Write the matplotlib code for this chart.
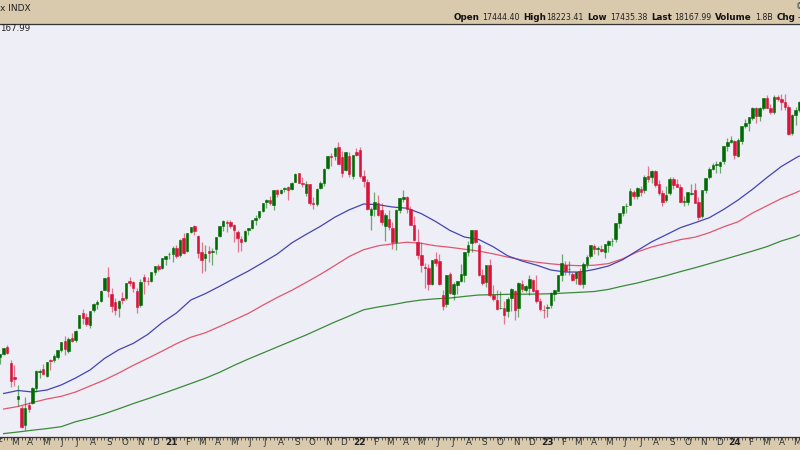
import numpy as np
import pandas as pd
import matplotlib
matplotlib.use("Agg")
import matplotlib.pyplot as plt
import matplotlib.dates as mdates
from matplotlib.transforms import blended_transform_factory

# weekly candles (Friday of each week), Feb 2020 .. May 2024
week_dates = pd.date_range("2020-02-07", "2024-05-10", freq="W-FRI")

opens = [
    # 2020
    9300, 9420, 9640, 9100, 8600, 7850, 7540, 6950, 7640, 7700, 8240, 8800,
    8900, 8660, 9200, 9200, 9300, 9560, 9860, 9500, 9980, 9880, 10300, 10830,
    10700, 10420, 10930, 11160, 11250, 11650, 12100, 11500, 11200, 11000, 11350, 11340,
    11950, 11900, 11600, 11100, 12100, 11950, 11960, 12260, 12450, 12400, 12720, 12880,
    # 2021
    12900, 13080, 12850, 13450, 13000, 13640, 13860, 13500, 12950, 12750, 13000, 12950,
    13040, 13500, 13850, 14000, 14000, 13900, 13650, 13400, 13330, 13720, 13790, 14080,
    14160, 14370, 14680, 14770, 14600, 15110, 15000, 15140, 15200, 15150, 15380, 15680,
    15360, 15000, 15300, 14660, 14620, 15170, 15360, 15880, 16300, 16280, 16600, 16250,
    15800, 16300, 15580, 16430,
    # 2022
    16500, 15580, 15400, 14250, 14450, 14650, 14400, 13850, 14100, 13800, 13300, 14400,
    14800, 14850, 14450, 13900, 13300, 12850, 12430, 12400, 11850, 12700, 12650, 11450,
    11150, 12200, 11500, 11800, 11950, 12150, 12950, 13250, 13700, 13200, 12150, 11900,
    12500, 11450, 11300, 11000, 11000, 10900, 11350, 11600, 11000, 11850, 11650, 11700,
    11980, 11650, 11250, 10950,
    # 2023
    11000, 11100, 11500, 11600, 12150, 12500, 12350, 12200, 12050, 12300, 11850, 12550,
    12800, 13150, 13050, 13050, 12950, 13200, 13340, 13400, 13950, 14300, 14550, 14600,
    15050, 14900, 15150, 15100, 15600, 15550, 15750, 15300, 15000, 14750, 15000, 15480,
    15300, 15200, 14700, 14700, 14980, 15100, 14700, 14200, 15100, 15550, 15850, 15980,
    15950, 16100, 16650, 16780,
    # 2024
    16800, 16300, 16800, 17320, 17450, 17600, 17950, 17680, 17950, 18300, 17950, 17800,
    18350, 18250, 18150, 18000, 17100, 17700, 17900,
]
highs = [
    9420, 9630, 9720, 9200, 9030, 8330, 7650, 7900, 7740, 8280, 8850, 8900,
    9050, 9130, 9230, 9400, 9560, 9840, 10020, 10000, 10130, 10240, 10780, 10960,
    10820, 10920, 11180, 11270, 11640, 12040, 12430, 11700, 11350, 11300, 11560, 11880,
    12100, 11950, 11700, 12000, 12180, 12080, 12270, 12470, 12530, 12760, 12810, 12940,
    13170, 13180, 13400, 13620, 13620, 13830, 13880, 13560, 13300, 13200, 13150, 13100,
    13490, 13850, 14060, 14060, 14070, 13920, 13700, 13500, 13720, 13790, 14080, 14240,
    14380, 14670, 14800, 14890, 15120, 15150, 15130, 15200, 15250, 15370, 15700, 15700,
    15560, 15420, 15330, 14850, 15160, 15430, 15870, 16300, 16400, 16590, 16764, 16470,
    16420, 16420, 16330, 16560,
    16600, 15800, 15500, 14500, 15050, 14950, 14650, 14300, 14400, 14000, 14430, 14830,
    15100, 14900, 14550, 14200, 13750, 13290, 12560, 12550, 12690, 12950, 12900, 11650,
    12150, 12250, 11900, 11950, 12550, 12950, 13350, 13700, 13720, 13280, 12350, 12500,
    12700, 11800, 11650, 11600, 11250, 11400, 11700, 11650, 11900, 11970, 11800, 12170,
    12000, 12170, 11370, 11100,
    11150, 11550, 11650, 12170, 12880, 12650, 12650, 12250, 12250, 12400, 12600, 12850,
    13200, 13220, 13150, 13200, 13230, 13380, 13450, 13950, 14300, 14550, 14650, 15180,
    15100, 15200, 15250, 15620, 15932, 15800, 15800, 15450, 15100, 15250, 15550, 15550,
    15500, 15300, 14900, 15050, 15300, 15350, 14850, 15100, 15530, 15900, 16050, 16100,
    16100, 16650, 16900, 16970,
    16850, 16900, 17330, 17560, 17650, 17990, 18000, 18000, 18310, 18420, 18100, 18416,
    18400, 18450, 18450, 18050, 17750, 18000, 18200,
]
lows = [
    9080, 9380, 9420, 8250, 8300, 7600, 6850, 6771, 7380, 7680, 8100, 8560,
    8680, 8600, 8840, 9150, 9240, 9480, 9390, 9430, 9830, 9830, 10300, 10440,
    10400, 10330, 10880, 10960, 11200, 11620, 11400, 10880, 10780, 10680, 11140, 11300,
    11780, 11580, 10850, 11050, 11500, 11820, 11920, 12150, 12300, 12380, 12500, 12700,
    12600, 12750, 12780, 12900, 12960, 13600, 13540, 12750, 12210, 12300, 12600, 12490,
    12900, 13480, 13690, 13650, 13800, 13300, 12970, 13000, 13300, 13530, 13740, 13900,
    14100, 14350, 14480, 14600, 14400, 14850, 14960, 15040, 14750, 15100, 15370, 15360,
    15200, 14900, 14580, 14450, 14550, 15150, 15250, 15850, 15950, 16150, 16000, 15550,
    15750, 15550, 15500, 16300,
    15530, 15200, 14420, 13725, 14200, 14200, 13900, 13320, 13700, 13050, 13020, 14300,
    14700, 14300, 13880, 13330, 12720, 12250, 11690, 11650, 11800, 12450, 11800, 10950,
    11050, 11500, 11300, 11500, 11900, 11900, 12800, 12950, 13280, 12130, 11800, 11750,
    11400, 11250, 10950, 10980, 10440, 10700, 10900, 10600, 10700, 11550, 11550, 11450,
    11550, 11180, 10900, 10670,
    10700, 11000, 11250, 11600, 11950, 12150, 12150, 11950, 11850, 11800, 11700, 12400,
    12750, 12900, 12850, 12950, 12730, 12950, 13150, 13300, 13800, 14200, 14300, 14580,
    14800, 14800, 14900, 15000, 15400, 15350, 15200, 14950, 14550, 14700, 14950, 15150,
    15200, 14700, 14550, 14600, 14950, 14650, 14058, 14150, 15000, 15500, 15800, 15700,
    15700, 16000, 16450, 16750,
    16200, 16250, 16700, 17250, 17150, 17550, 17450, 17500, 17900, 17950, 17750, 17750,
    18200, 17900, 17900, 17000, 17000, 17350, 17800,
]
closes = [
    9402, 9623, 9446, 8462, 8531, 7950, 6890, 7550, 7510, 8230, 8832, 8834,
    8718, 9121, 9152, 9325, 9555, 9814, 9588, 9946, 9849, 10208, 10768, 10644,
    10462, 10905, 11139, 11201, 11610, 12036, 11595, 11088, 10939, 11249, 11281, 11867,
    11890, 11692, 11052, 11895, 11937, 11938, 12258, 12465, 12375, 12756, 12804, 12888,
    13105, 12804, 13366, 12925, 13613, 13807, 13675, 12909, 12669, 12890, 12916, 12978,
    13481, 13845, 14041, 13960, 13860, 13720, 13430, 13300, 13687, 13774, 14069, 14142,
    14360, 14661, 14749, 14660, 15115, 14960, 15122, 15173, 15108, 15346, 15652, 15365,
    15325, 15310, 14666, 14615, 15150, 15335, 15850, 16290, 16253, 16573, 16025, 15700,
    16410, 15650, 16310, 16320,
    15594, 15420, 14438, 14440, 14698, 14252, 14000, 14236, 13838, 13302, 14429, 14812,
    14860, 14447, 13897, 13355, 12855, 12500, 12387, 11835, 12681, 12566, 11830, 11091,
    12141, 11544, 11835, 11937, 12180, 12947, 13207, 13700, 13292, 12142, 11863, 12486,
    11449, 11311, 10971, 11005, 10748, 11324, 11652, 10952, 11887, 11678, 11784, 12030,
    11594, 11237, 10985, 10940,
    11040, 11541, 11620, 12166, 12573, 12305, 12358, 11992, 12247, 11830, 12520, 12767,
    13181, 13063, 13079, 13001, 13226, 13340, 13340, 13945, 14298, 14546, 14558, 15083,
    14891, 15179, 15034, 15565, 15487, 15750, 15274, 15009, 14694, 14942, 15492, 15273,
    15202, 14701, 14715, 15037, 15016, 14668, 14180, 15099, 15529, 15849, 15982, 15998,
    16085, 16624, 16777, 16826,
    16306, 16833, 17314, 17421, 17643, 17962, 17685, 17937, 18302, 17962, 17808, 18340,
    18254, 18149, 18003, 17037, 17718, 17890, 18161,
]

# moving averages read every 4 weeks from 2020-02-14, last point 2024-05-10
ma_dates = list(pd.date_range("2020-02-14", "2024-05-03", freq="28D")) + [pd.Timestamp("2024-05-10")]
ma_blue = [8039, 8143, 8091, 8160, 8334, 8577, 8855, 9254, 9560, 9779, 10088, 10498,
           10834, 11286, 11505, 11762, 12033, 12293, 12585, 12883, 13266, 13564, 13845,
           14162, 14419, 14620, 14596, 14516, 14474, 14287, 14012, 13700, 13474, 13387,
           13134, 12821, 12640, 12498, 12328, 12258, 12258, 12345, 12467, 12689, 13002,
           13307, 13550, 13800, 13967, 14144, 14432, 14759, 15131, 15537, 15922, 16218, 16287]
ma_red = [7500, 7587, 7723, 7848, 7941, 8091, 8299, 8508, 8751, 9015, 9258, 9508,
          9768, 9994, 10147, 10366, 10591, 10821, 11105, 11373, 11619, 11894, 12178,
          12484, 12797, 13033, 13168, 13238, 13293, 13255, 13168, 13116, 13050, 12984,
          12890, 12776, 12675, 12599, 12543, 12498, 12477, 12494, 12550, 12720, 12956,
          13127, 13255, 13384, 13467, 13623, 13828, 14002, 14307, 14557, 14808, 15012, 15071]
ma_green = [6646, 6702, 6764, 6820, 6886, 7059, 7181, 7334, 7507, 7688, 7855, 8028,
            8205, 8386, 8567, 8775, 9015, 9237, 9445, 9654, 9862, 10070, 10296, 10522,
            10730, 10946, 11043, 11123, 11216, 11286, 11328, 11355, 11411, 11460, 11470,
            11484, 11487, 11491, 11505, 11529, 11553, 11581, 11654, 11772, 11876, 12005,
            12130, 12272, 12404, 12547, 12692, 12838, 12984, 13140, 13335, 13488, 13543]

header_labels = ["Open", "High", "Low", "Last", "Volume", "Chg"]
header_values = ["17444.40", "18223.41", "17435.38", "18167.99", "1.8B", "-"]

TAN = "#d9caae"
PLOT_BG = "#eeeef6"
UP = "#006b00"
DOWN = "#d8143a"

fig = plt.figure(figsize=(8, 4.5), dpi=100, facecolor=TAN)
ax = fig.add_axes([0, 13 / 450, 1, 413.5 / 450])
ax.set_facecolor(PLOT_BG)

x = mdates.date2num(week_dates)
o = np.array(opens, dtype=float)
h = np.array(highs, dtype=float)
l = np.array(lows, dtype=float)
c = np.array(closes, dtype=float)
up = c >= o
body_col = np.where(up, UP, DOWN)

# moving averages
mx = mdates.date2num(ma_dates)
ax.plot(mx, ma_green, color="#3a8a3a", lw=0.9, zorder=2)
ax.plot(mx, ma_red, color="#e2566e", lw=0.9, zorder=2)
ax.plot(mx, ma_blue, color="#4444b4", lw=0.9, zorder=2)

# candles
ax.vlines(x, l, h, colors=body_col, linewidth=0.9, alpha=0.55, zorder=3)
ax.bar(x, c - o, bottom=o, width=4.9, color=body_col, edgecolor=body_col,
       linewidth=0.4, zorder=4)

# pixel-calibrated view
anchor = mdates.date2num(pd.Timestamp("2020-03-27"))
ax.set_xlim(anchor - 24 / 0.51514, anchor + 776 / 0.51514)
ax.set_ylim(6528, 20889)

for s in ["left", "right"]:
    ax.spines[s].set_visible(False)
ax.spines["top"].set_color("#333333")
ax.spines["bottom"].set_color("#333333")
ax.spines["top"].set_linewidth(0.9)
ax.spines["bottom"].set_linewidth(0.9)
ax.set_yticks([])

# weekly ticks along the date band
ax.set_xticks(x, minor=True)
ax.set_xticks([])
ax.tick_params(axis="x", which="minor", length=2, width=0.6, color="#444444",
               direction="out")

# month / year labels
trans = blended_transform_factory(ax.transData, ax.transAxes)
for m in pd.date_range("2020-02-01", "2024-05-01", freq="MS"):
    pos = mdates.date2num(m + pd.Timedelta(days=5))
    if m.month == 1:
        ax.text(pos, -0.0145, m.strftime("%y"), transform=trans, ha="center",
                va="center", fontsize=6.5, fontweight="bold", color="#222222",
                clip_on=False)
    else:
        ax.text(pos, -0.0145, m.strftime("%b")[0], transform=trans, ha="center",
                va="center", fontsize=6.3, color="#333333", clip_on=False)

# header band
def px(xp, yp):
    return xp / 800, 1 - yp / 450

fig.text(*px(0.5, 8.5), "x INDX", fontsize=6.5, va="center", ha="left", color="#222222")
fig.text(*px(796, 6.5), "\u00a9", fontsize=5.5, va="center", ha="left", color="#444444")
label_x = [454, 523, 587, 651, 715, 777]
value_x = [482, 546, 610, 674, 755, 798]
for lab, val, lx, vx in zip(header_labels, header_values, label_x, value_x):
    fig.text(*px(lx, 17.5), lab, fontsize=6.3, fontweight="bold", va="center",
             ha="left", color="#111111")
    fig.text(*px(vx, 17.5), val, fontsize=5.7, va="center", ha="left", color="#222222")

fig.text(*px(0, 28.5), "167.99", fontsize=6.3, va="center", ha="left", color="#222222")

fig.savefig("out.png", dpi=100, facecolor=TAN)
